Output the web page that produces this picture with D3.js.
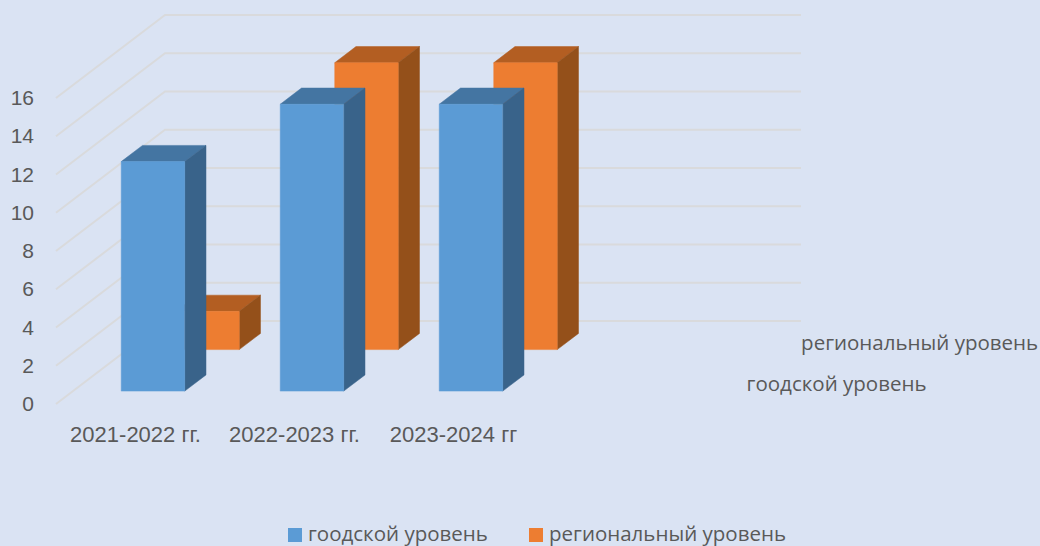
<!DOCTYPE html>
<html>
<head>
<meta charset="utf-8">
<script src="https://cdn.jsdelivr.net/npm/d3@7"></script>
<style>
  html, body { margin: 0; padding: 0; background: #dae3f3; }
  svg { display: block; font-family: "Open Sans", sans-serif; }
  text { fill: #595959; }
</style>
</head>
<body>
<svg></svg>
<script>
const categories = ["2021-2022 гг.", "2022-2023 гг.", "2023-2024 гг"];
const seriesNames = ["гоодской уровень", "региональный уровень"];
const gorodValues = [12, 15, 15];
const regionValues = [2, 15, 15];
const yTicks = [0, 2, 4, 6, 8, 10, 12, 14, 16];

const width = 1040;
const height = 546;

// the fake 3d: going from z=0 to z=1 moves a point by this much
const depthX = 109;
const depthY = -83;
const wallWidth = 636;

let xScale = d3.scaleBand().domain(categories).range([56, 533]);
let yScale = d3.scaleLinear().domain([0, 16]).range([404, 98]);
let zScale = d3.scaleBand().domain(seriesNames).range([0.0125, 1.0125]).paddingInner(0.61).paddingOuter(0.305);

let barWidth = 63.5;
let fontSize = 20.5;

function pt(x, v, z) {
  return [x + z * depthX, yScale(v) + z * depthY];
}
function poly(points) {
  return points.map(p => p.join(",")).join(" ");
}

let svg = d3.select("svg").attr("width", width).attr("height", height);
svg.append("rect").attr("width", width).attr("height", height).attr("fill", "#dae3f3");

// gridlines: side wall then back wall
svg.append("g").selectAll("polyline").data(yTicks)
  .enter().append("polyline")
  .attr("points", d => poly([pt(56, d, 0), pt(56, d, 1), pt(56 + wallWidth, d, 1)]))
  .attr("fill", "none")
  .attr("stroke", "#d9dadc")
  .attr("stroke-width", 2);

// axes
let yAxis = d3.axisLeft(yScale).tickValues(yTicks).tickSize(0).tickPadding(22);
let gy = svg.append("g").attr("transform", "translate(56,0)").call(yAxis);
gy.select(".domain").remove();
gy.selectAll("text").attr("font-size", 21).attr("font-family", null);

let xAxis = d3.axisBottom(xScale).tickSize(0).tickPadding(0);
let gx = svg.append("g").attr("transform", "translate(0,426)").call(xAxis);
gx.select(".domain").remove();
gx.selectAll("text").attr("font-size", 22).attr("font-family", null);

const styles = {
  "гоодской уровень": { front: "#5b9bd5", top: "#4475a2", side: "#39638a" },
  "региональный уровень": { front: "#ed7d31", top: "#b35e22", side: "#94501a" }
};

function drawBar(g, name, category, value) {
  let c = styles[name];
  let x0 = xScale(category) + (xScale.bandwidth() - barWidth) / 2;
  let x1 = x0 + barWidth;
  let z0 = zScale(name);
  let z1 = z0 + zScale.bandwidth();
  // base of the bar is the value 0 on the floor
  g.append("polygon").attr("fill", c.top).attr("stroke", c.top).attr("stroke-width", 0.5)
    .attr("points", poly([pt(x0, value, z0), pt(x1, value, z0), pt(x1, value, z1), pt(x0, value, z1)]));
  g.append("polygon").attr("fill", c.side).attr("stroke", c.side).attr("stroke-width", 0.5)
    .attr("points", poly([pt(x1, 0, z0), pt(x1, value, z0), pt(x1, value, z1), pt(x1, 0, z1)]));
  g.append("polygon").attr("fill", c.front).attr("stroke", c.front).attr("stroke-width", 0.5)
    .attr("points", poly([pt(x0, 0, z0), pt(x1, 0, z0), pt(x1, value, z0), pt(x0, value, z0)]));
}

// back series first so the front one covers it
let bars = svg.append("g").attr("transform", "translate(-0.5,0.8)");
categories.forEach((cat, i) => {
  drawBar(bars, seriesNames[1], cat, regionValues[i]);
  drawBar(bars, seriesNames[0], cat, gorodValues[i]);
});

// depth axis labels
svg.append("g").selectAll("text").data(seriesNames)
  .enter().append("text")
  .attr("x", d => 56 + wallWidth + (zScale(d) + zScale.bandwidth() / 2) * depthX + 26)
  .attr("y", d => yScale(0) + (zScale(d) + zScale.bandwidth() / 2) * depthY + 9)
  .attr("font-size", fontSize)
  .text(d => d);

// legend
let legendX = d3.scaleOrdinal().domain(seriesNames).range([288, 529]);
let legend = svg.append("g").selectAll("g").data(seriesNames).enter().append("g")
  .attr("transform", d => `translate(${legendX(d)},528)`);
legend.append("rect").attr("width", 14).attr("height", 14).attr("fill", d => styles[d].front);
legend.append("text").attr("x", 20).attr("y", 13).attr("font-size", fontSize).text(d => d);
</script>
</body>
</html>
